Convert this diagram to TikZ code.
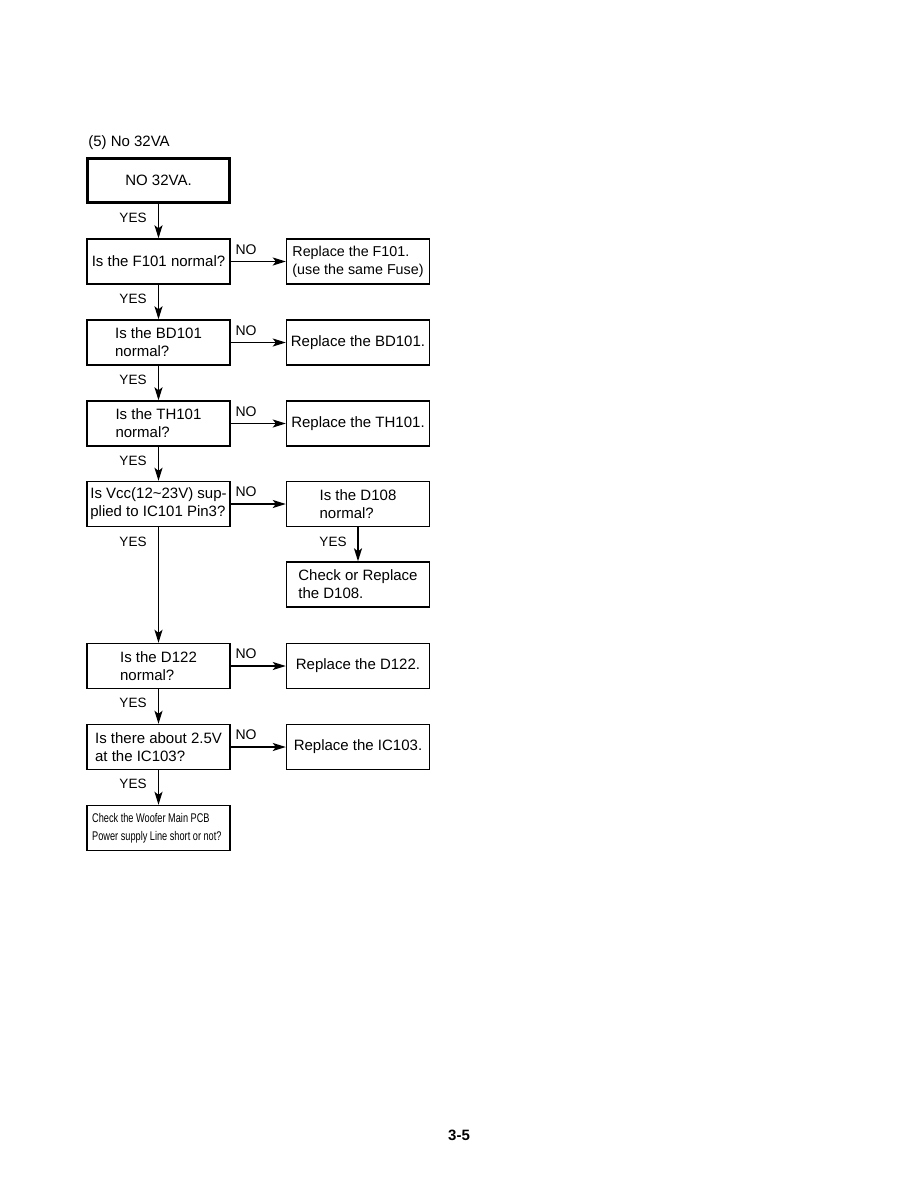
\documentclass[tikz,border=0pt]{standalone}
\usepackage{fontspec}
\setmainfont{Liberation Sans}
\newfontfamily\narrowfont[FakeStretch=0.73]{Liberation Sans}
\usetikzlibrary{arrows.meta}
\begin{document}
\begin{tikzpicture}[x=1pt,y=-1pt,
  box/.style={draw, line width=1.4pt, minimum width=143pt, minimum height=45pt, inner sep=0pt,
    align=left, font=\fontsize{15}{18}\selectfont},
  conn/.style={line width=1.5pt, -{Stealth[length=13pt,width=8pt,inset=3pt]}},
  yes/.style={font=\fontsize{13.5}{15}\selectfont},
  no/.style={font=\fontsize{14}{15}\selectfont}]
\useasboundingbox (0,0) rectangle (915,1191);
\node[font=\fontsize{15}{18}\selectfont] (title) at (129,143) {(5) No 32VA};
% left column
\node[box, line width=2.6pt, minimum width=141.5pt, minimum height=43.5pt] (b0) at (158.5,180.5) {NO 32VA.};
\node[box] (b1) at (158.5,261.5) {Is the F101 normal?};
\node[box] (b2) at (158.5,342.5) {Is the BD101\\normal?};
\node[box] (b3) at (158.5,423.5) {Is the TH101\\normal?};
\node[box] (b4) at (158.5,504) {Is Vcc(12\char`\~23V) sup-\\plied to IC101 Pin3?};
\node[box] (b5) at (158.5,666) {Is the D122\\normal?};
\node[box] (b6) at (158.5,747) {Is there about 2.5V\\at the IC103?};
\node[box] (b7) at (158.5,828) {};
\node[anchor=west, align=left, inner sep=0pt, font=\narrowfont\fontsize{12.6}{18}\selectfont] (b7t) at (92,828) {Check the Woofer Main PCB\\Power supply Line short or not?};
% right column
\node[box, font=\fontsize{14.3}{18}\selectfont] (r1) at (358,261.5) {Replace the F101.\\(use the same Fuse)};
\node[box] (r2) at (358,342.5) {Replace the BD101.};
\node[box] (r3) at (358,423.5) {Replace the TH101.};
\node[box] (r4) at (358,504) {Is the D108\\normal?};
\node[box] (r4b) at (358,584.5) {Check or Replace\\the D108.};
\node[box] (r5) at (358,666) {Replace the D122.};
\node[box] (r6) at (358,747) {Replace the IC103.};
% vertical connectors
\draw[conn] (b0.south) -- (b1.north);
\draw[conn] (b1.south) -- (b2.north);
\draw[conn] (b2.south) -- (b3.north);
\draw[conn] (b3.south) -- (b4.north);
\draw[conn] (b4.south) -- (b5.north);
\draw[conn] (b5.south) -- (b6.north);
\draw[conn] (b6.south) -- (b7.north);
\draw[conn] (r4.south) -- (r4b.north);
% horizontal connectors
\draw[conn] (b1.east) -- (r1.west);
\draw[conn] (b2.east) -- (r2.west);
\draw[conn] (b3.east) -- (r3.west);
\draw[conn] (b4.east) -- (r4.west);
\draw[conn] (b5.east) -- (r5.west);
\draw[conn] (b6.east) -- (r6.west);
% labels
\node[yes] (y1) at (133,218) {YES};
\node[yes] (y2) at (133,299) {YES};
\node[yes] (y3) at (133,380) {YES};
\node[yes] (y4) at (133,461) {YES};
\node[yes] (y5) at (133,542) {YES};
\node[yes] (y6) at (133,703) {YES};
\node[yes] (y7) at (133,784) {YES};
\node[yes] (y8) at (333,542) {YES};
\node[no] (n1) at (246,250) {NO};
\node[no] (n2) at (246,330.5) {NO};
\node[no] (n3) at (246,411.5) {NO};
\node[no] (n4) at (246,492) {NO};
\node[no] (n5) at (246,654) {NO};
\node[no] (n6) at (246,735) {NO};
\node[font=\bfseries\fontsize{15}{18}\selectfont] (page) at (459,1135) {3-5};
\end{tikzpicture}
\end{document}
